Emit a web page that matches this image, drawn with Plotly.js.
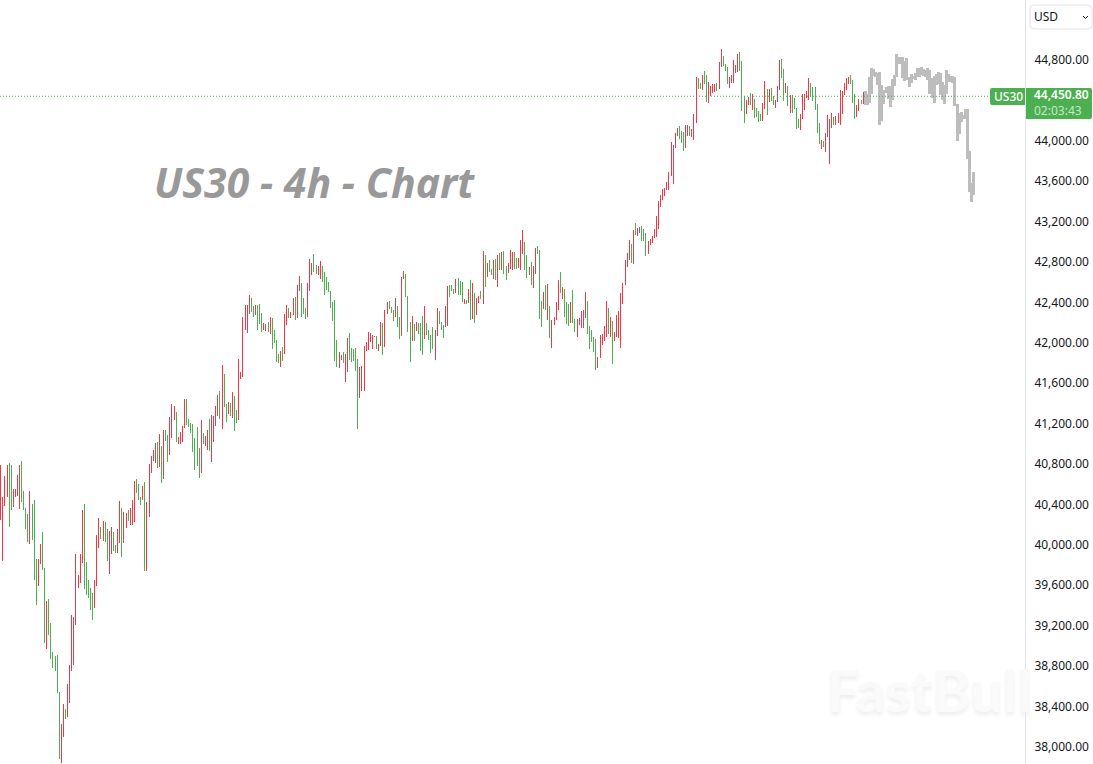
<!DOCTYPE html>
<html>
<head>
<meta charset="utf-8">
<script src="https://cdn.plot.ly/plotly-3.0.1.min.js"></script>
<style>
html,body{margin:0;padding:0;background:#fff;overflow:hidden}
#chart{width:1093px;height:764px}
.ohlc path{shape-rendering:crispEdges}
.yaxislayer-above{transform:translateY(-1px)}
</style>
</head>
<body>
<div id="chart"></div>
<script>
const symbol = "US30", currency = "USD", chartTitle = "US30 - 4h - Chart", brand = "FastBull";
const lastPrice = 44450.80, lastPriceLabel = "44,450.80", countdown = "02:03:43";
const priceTicks = [38000,38400,38800,39200,39600,40000,40400,40800,41200,41600,42000,42400,42800,43200,43600,44000,44800];

const highs = [
40800,40484,40692,40800,40820,40800,40563,40563,40701,40800,
40840,40543,40375,40315,40543,40414,40454,39870,39870,40018,
40137,39781,39454,39474,39236,38949,38910,38920,38553,38236,
38434,38385,38632,38820,39316,39296,39919,39712,39919,40358,
40414,39840,39662,39583,39533,39662,40108,40276,40187,40246,
40236,40167,40147,40187,40137,40008,40167,40444,40375,40335,
40325,40355,40375,40454,40642,40662,40612,40484,40593,40632,40434,
40810,40890,40949,41018,41028,41107,40989,41147,41147,41098,
41276,41404,41385,41325,41078,41127,41187,41454,41454,41256,
41216,41206,41068,41177,40969,41246,41117,41088,41147,41256,
41296,41286,41385,41494,41533,41791,41701,41404,41424,41414,
41523,41484,41345,41850,41721,42266,42385,42385,42484,42454,
42375,42385,42385,42394,42305,42206,42196,42216,42266,42256,
42137,42038,41899,41929,41969,42295,42385,42355,42315,42454,
42464,42582,42672,42602,42454,42355,42602,42840,42800,42889,
42781,42771,42820,42771,42711,42662,42612,42523,42414,42434,
42038,41919,41890,41919,41899,42058,42107,41959,41949,41959,
41850,41771,41781,41979,42018,42117,42107,42088,42078,42078,41998,
42216,42206,42335,42414,42424,42365,42335,42454,42375,42266,
42662,42721,42691,42474,42216,42276,42196,42216,42206,42206,
42276,42375,42206,42137,42088,42167,42137,42355,42325,42216,
42186,42375,42573,42582,42582,42543,42642,42652,42622,42612,
42444,42434,42543,42632,42602,42503,42454,42474,42523,42919,
42880,42800,42830,42741,42830,42840,42880,42899,42909,42919,
42771,42800,42929,42909,42909,42850,42850,43028,43127,43008,
42880,42761,42810,42771,42949,42969,42929,42424,42513,42582,
42592,42375,42236,42266,42414,42632,42711,42563,42543,42414,
42394,42414,42533,42246,42246,42256,42325,42335,42513,42424,
42177,42137,42068,42048,41870,42088,42097,42177,42424,42355,
42266,42226,42117,42286,42325,42503,42602,42830,42899,43028,
42988,43127,43196,43147,43157,
43167,43137,43097,43018,43038,43068,43137,43266,43414,43474,
43533,43543,43602,43701,43998,43969,44087,44137,44157,44107,
44097,44166,44166,44157,44127,44275,44642,44632,44582,44662,
44701,44662,44592,44553,44572,44572,44582,44790,44919,44850,
44770,44741,44642,44662,44810,44760,44869,44889,44800,44454,
44414,44444,44483,44473,44424,44335,44305,44275,44384,44602,
44523,44523,44533,44454,44414,44553,44810,44820,44721,44582,
44553,44464,44464,44434,44335,44226,44275,44473,44473,44503,
44632,44582,44543,44543,44374,44186,44018,44008,44087,44266,
44226,44285,44246,44256,44285,44513,44503,44582,44632,44642,
44662,44612,44473,44365,44424,44414,44493];

const lows = [
40256,39850,40395,40484,40187,40355,40385,40484,40494,40365,
40434,40355,40167,40038,40018,40058,39662,39414,39603,39820,
39761,39038,38979,39118,38880,38791,38761,38543,37890,37850,
38108,38286,38306,38444,38761,38820,39217,39583,39632,39830,
39573,39514,39484,39365,39266,39385,39603,39979,40068,40048,
40038,39850,39721,39919,39949,39929,39929,40028,39890,40028,
40177,40246,40207,40207,40236,40523,40454,40405,40454,39751,39751,
40286,40721,40840,40820,40771,40781,40622,40662,41038,40830,
40900,41068,41246,41028,41008,41008,41028,41167,41197,41177,
41117,40929,40751,40791,40672,40721,41008,40989,40949,40939,
40830,41028,41187,41286,41256,41157,41375,41226,41305,41286,
41266,41137,41216,41246,41652,41672,42137,42107,42295,42315,
42266,42286,42137,42196,42117,42137,42127,42117,42097,41949,
42008,41820,41810,41771,41830,41899,42186,42256,42256,42286,
42236,42256,42523,42266,42295,42246,42266,42523,42682,42711,
42691,42682,42642,42612,42484,42533,42513,42355,42226,41830,
41771,41761,41840,41810,41622,41721,41840,41820,41830,41731,
41157,41464,41533,41533,41929,41939,42018,41949,42068,41949,41929,
41979,41890,41969,42295,42345,42305,42226,42266,42167,42048,
42078,42642,42464,42117,41820,42028,42028,42127,42097,41929,
41890,42048,42088,42038,41909,41949,41840,42078,42196,42137,
42058,42167,42177,42464,42523,42493,42503,42484,42484,42414,
42394,42394,42404,42236,42246,42206,42286,42404,42444,42394,
42563,42662,42711,42682,42642,42632,42563,42731,42731,42691,
42632,42701,42741,42731,42741,42741,42751,42731,42889,42731,
42652,42682,42583,42553,42691,42889,42246,42167,42345,42335,
42236,42058,41959,42186,42236,42335,42503,42444,42266,42196,
42177,42206,42206,42117,42068,42186,42157,42157,42256,42097,
41949,42018,41919,41741,41761,41860,41989,42028,42068,42097,
42068,41800,42028,42068,42058,41959,42394,42583,42761,42830,
42800,42790,43078,43068,43097,
43018,43018,42870,42889,42978,42998,43048,43058,43137,43355,
43424,43464,43523,43523,43662,43582,43939,44058,44028,43988,
43909,43939,44058,44058,44048,44018,44186,44523,44523,44513,
44572,44394,44384,44454,44483,44493,44503,44523,44741,44751,
44701,44572,44533,44582,44582,44681,44691,44701,44305,44186,
44275,44364,44364,44315,44236,44246,44196,44206,44206,44325,
44266,44394,44404,44364,44335,44394,44513,44632,44404,44483,
44355,44285,44285,44325,44127,44137,44117,44226,44315,44434,
44414,44444,44404,44315,44087,43978,43929,43949,43899,44048,
43780,44137,44166,44166,44186,44166,44275,44464,44513,44572,
44572,44384,44226,44246,44305,44374,44374];

// R = red bar, G = green bar, one letter per bar
const barColors = (
"RRRRGGRRRR"+"GGGGRGGGRR"+"GGRGGGGGGR"+"RGRRRRRRRR"+"GGGGGRRRGR"+"GGRRGGRRGR"+"RGRRRGGGRGR"+
"RRRRGRGRGG"+"RRRGRRRRGG"+"GGGGGRGRRG"+"RRRRGRGGRG"+"RGGRRRRRRG"+"GRGGGRRGRG"+"GGGRGRRGRR"+
"GRRGGGRRRG"+"GRRGGGGGGG"+"GRRGRRGGGG"+"GRRRRRRRRGR"+
"RGRRGGGRGG"+"RRGGGRGRGG"+"GRGGGGRRGG"+"GRRGGGRGGG"+"RGRGRGRRGR"+"GRGGRGRGRG"+"GRRRGGRRRG"+
"GRGRRGGGRG"+"RGRRRRGRGG"+"GRGGRRRRRG"+"GGGGRRRRRG"+"RGRRRRRRRR"+"GRGRR"+
"GGGRRRRRRR"+"RRRRRRRRGG"+"GRRGRRRGGR"+"GGRRRRGRRG"+"GGRRRRRGGG"+"RRGRGGGGRR"+"GRGGRRRGGR"+
"GRGGGGRRRR"+"RGGGGGRGRR"+"RRGRRRRRRR"+"GGGRRGR").split("");

// Latest bars, drawn in grey
const greyHighs = [44503,44473,44642,44731,44721,44691,44681,44691,44562,44513,44543,44553,44553,44622,44661,44869,44840,44840,44840,44800,44830,44642,44671,44652,44681,44731,44731,
44741,44721,44711,44731,44711,44632,44652,44671,44691,44681,44592,44562,44711,44671,44652,44652,44642,44374,44285,44295,44265,44325,44325,43909,43592,43701];
const greyLows = [44364,44364,44384,44473,44652,44642,44562,44166,44206,44374,44483,44424,44345,44414,44553,44642,44770,44770,44632,44602,44612,44543,44582,44622,44612,44642,44642,
44662,44652,44642,44612,44473,44434,44384,44562,44572,44464,44414,44374,44473,44592,44592,44582,44355,44008,44077,44196,44226,44226,43830,43503,43404,43474];

const RED = "#f23645", GREEN = "#4caf50", GREY = "#bdbdbd";
const W = 1093, H = 764, PLOT_W = 1025, STEP = 2.088, OFFSET = 0.75;
const px = X => X / PLOT_W, py = Y => 1 - Y / H;
const roundRect = (x0, y0, x1, y1, rl, rr) =>
  `M${px(x0+rl)},${py(y0)} L${px(x1-rr)},${py(y0)} Q${px(x1)},${py(y0)} ${px(x1)},${py(y0+rr)} `+
  `L${px(x1)},${py(y1-rr)} Q${px(x1)},${py(y1)} ${px(x1-rr)},${py(y1)} L${px(x0+rl)},${py(y1)} `+
  `Q${px(x0)},${py(y1)} ${px(x0)},${py(y1-rl)} L${px(x0)},${py(y0+rl)} Q${px(x0)},${py(y0)} ${px(x0+rl)},${py(y0)} Z`;

const xMain = highs.map((_, i) => i);
const xGrey = greyHighs.map((_, i) => i + highs.length);

const traces = [
  {
    type: "ohlc", x: xMain, high: highs, low: lows,
    open: lows.map((l, i) => barColors[i] === "R" ? l : highs[i]),
    close: highs.map((h, i) => barColors[i] === "R" ? h : lows[i]),
    tickwidth: 0, hoverinfo: "skip", showlegend: false,
    increasing: {line: {color: RED, width: 1}},
    decreasing: {line: {color: GREEN, width: 1}}
  },
  {
    type: "ohlc", x: xGrey, high: greyHighs, low: greyLows,
    open: greyLows, close: greyHighs,
    tickwidth: 0, hoverinfo: "skip", showlegend: false,
    increasing: {line: {color: GREY, width: 3}},
    decreasing: {line: {color: GREY, width: 3}}
  }
];

const uiFont = "'Noto Sans', 'DejaVu Sans', sans-serif";
const label = (text, X, Y, anchor, size, color, weight) => ({
  text, xref: "paper", yref: "paper", x: px(X), y: py(Y), xanchor: anchor, yanchor: "middle",
  showarrow: false, align: anchor, borderpad: 0,
  font: {family: uiFont, size, color, weight: weight || 400}
});

const layout = {
  width: W, height: H,
  margin: {l: 0, r: W - PLOT_W, t: 0, b: 0, pad: 0},
  paper_bgcolor: "#ffffff", plot_bgcolor: "#ffffff",
  showlegend: false,
  xaxis: {
    type: "linear", range: [-OFFSET / STEP, (PLOT_W - OFFSET) / STEP],
    visible: false, fixedrange: true, rangeslider: {visible: false}
  },
  yaxis: {
    side: "right", range: [37840, 45404], fixedrange: true,
    tickmode: "array", tickvals: priceTicks, tickformat: ",.2f", ticks: "", ticklabelstandoff: 6,
    showgrid: false, zeroline: false,
    showline: true, linecolor: "#e0e3eb", linewidth: 1,
    tickfont: {family: uiFont, size: 12, color: "#131722"}
  },
  shapes: [
    {type: "line", xref: "paper", yref: "y", x0: 0, x1: px(990), y0: lastPrice, y1: lastPrice,
     line: {color: GREEN, width: 1, dash: "1px,2px"}, layer: "above"},
    {type: "path", xref: "paper", yref: "paper", path: roundRect(990, 88, 1025, 105, 2, 0),
     fillcolor: GREEN, line: {width: 0}, layer: "above"},
    {type: "path", xref: "paper", yref: "paper", path: roundRect(1026, 88, 1092, 119, 0, 2),
     fillcolor: GREEN, line: {width: 0}, layer: "above"},
    {type: "path", xref: "paper", yref: "paper", path: roundRect(1030, 5, 1092, 29, 4, 4),
     fillcolor: "#ffffff", line: {color: "#e0e3eb", width: 1}, layer: "above"},
    {type: "path", xref: "paper", yref: "paper",
     path: `M${px(1083)},${py(16)} L${px(1085.5)},${py(18.5)} L${px(1088)},${py(16)}`,
     line: {color: "#131722", width: 1}, layer: "above"}
  ],
  annotations: [
    {text: brand, xref: "paper", yref: "paper", x: px(929), y: py(689), xanchor: "center", yanchor: "middle",
     showarrow: false,
     font: {family: "Lato, 'Noto Sans', sans-serif", size: 58, weight: 700, color: "#fafafa", shadow: "0 3px 4px #eeeeee"}},
    {text: chartTitle, xref: "paper", yref: "paper", x: px(152), y: py(182), xanchor: "left", yanchor: "middle",
     showarrow: false,
     font: {family: "'Noto Sans', sans-serif", size: 41, weight: 700, style: "italic", color: "#999999"}},
    label(symbol, 1008, 96.5, "center", 12, "#ffffff", 500),
    label(lastPriceLabel, 1033, 95, "left", 12, "#ffffff", 600),
    label(countdown, 1033, 110.5, "left", 12, "#c9e7ca"),
    label(currency, 1032.5, 16.5, "left", 12, "#131722")
  ]
};

Plotly.newPlot("chart", traces, layout, {displayModeBar: false, staticPlot: true, responsive: false});
</script>
</body>
</html>
